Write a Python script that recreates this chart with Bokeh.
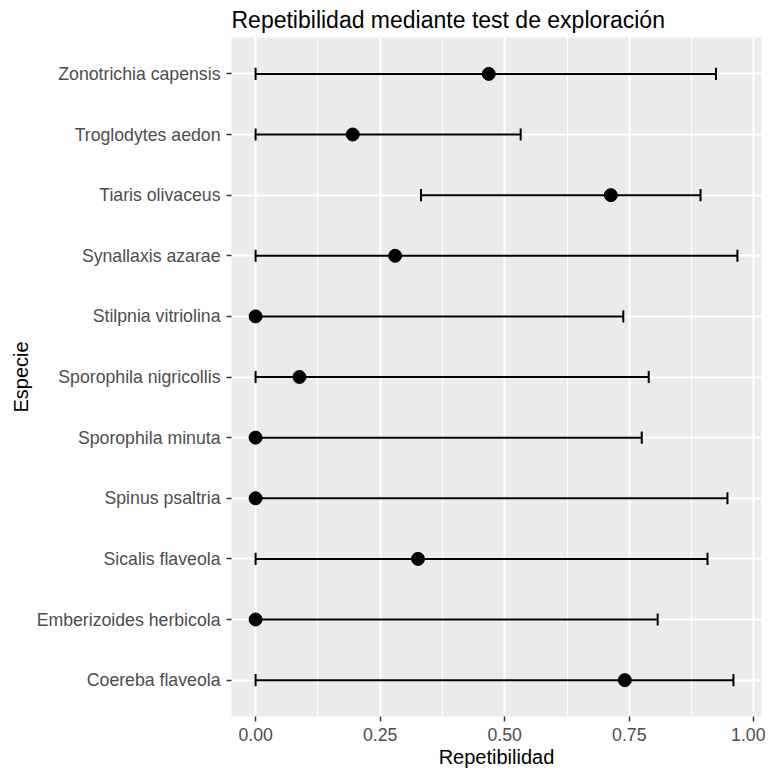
from bokeh.plotting import figure
from bokeh.models import Range1d, FixedTicker, ColumnDataSource
from bokeh.embed import file_html
from bokeh.resources import INLINE

# ---- data (ordered bottom -> top, as in the chart) ----
especies = ["Coereba flaveola", "Emberizoides herbicola", "Sicalis flaveola",
            "Spinus psaltria", "Sporophila minuta", "Sporophila nigricollis",
            "Stilpnia vitriolina", "Synallaxis azarae", "Tiaris olivaceus",
            "Troglodytes aedon", "Zonotrichia capensis"]
repetibilidad = [0.741, 0.0, 0.326, 0.0, 0.0, 0.088, 0.0, 0.280, 0.713, 0.195, 0.468]
ic_inferior = [0.0, 0.0, 0.0, 0.0, 0.0, 0.0, 0.0, 0.0, 0.332, 0.0, 0.0]
ic_superior = [0.959, 0.807, 0.907, 0.947, 0.775, 0.789, 0.738, 0.967, 0.893, 0.532, 0.924]
x_ticks = [0.0, 0.25, 0.5, 0.75, 1.0]
x_tick_labels = ["0.00", "0.25", "0.50", "0.75", "1.00"]
x_minor = [0.125, 0.375, 0.625, 0.875]
titulo = "Repetibilidad mediante test de exploración"

ypos = list(range(1, len(especies) + 1))
cap = 0.1
src = ColumnDataSource(dict(
    y=ypos, r=repetibilidad, lo=ic_inferior, hi=ic_superior,
    ylo=[v - cap for v in ypos], yhi=[v + cap for v in ypos],
))

lo_all = min(ic_inferior)
hi_all = max(ic_superior)
span = hi_all - lo_all

FONT = "Liberation Sans"

xr = Range1d(lo_all - 0.05 * span, hi_all + 0.05 * span)
yr = Range1d(0.4, len(especies) + 0.6)

p = figure(width=765, height=771, output_backend="svg", toolbar_location=None,
           x_range=xr, y_range=yr, title=titulo,
           min_border_left=231, min_border_right=4, min_border_top=37,
           min_border_bottom=55)

p.background_fill_color = "#EBEBEB"
p.border_fill_color = "white"
p.outline_line_color = None

p.title.text_font = FONT
p.title.text_font_size = "23px"
p.title.text_font_style = "normal"
p.title.text_color = "black"
p.title.align = "left"
p.title.standoff = 9

# grids
p.xgrid.ticker = FixedTicker(ticks=x_ticks, minor_ticks=x_minor)
p.xgrid.grid_line_color = "white"
p.xgrid.grid_line_width = 2
p.xgrid.minor_grid_line_color = "white"
p.xgrid.minor_grid_line_width = 1
p.ygrid.ticker = FixedTicker(ticks=ypos)
p.ygrid.grid_line_color = "white"
p.ygrid.grid_line_width = 2

# axes
p.xaxis.ticker = FixedTicker(ticks=x_ticks)
p.xaxis.major_label_overrides = dict(zip(x_ticks, x_tick_labels))
p.yaxis.ticker = FixedTicker(ticks=ypos)
p.yaxis.major_label_overrides = dict(zip(ypos, especies))
for ax in (p.xaxis, p.yaxis):
    ax.axis_line_color = None
    ax.major_tick_line_color = "#333333"
    ax.major_tick_line_width = 1.5
    ax.major_tick_out = 5
    ax.major_tick_in = 0
    ax.minor_tick_line_color = None
    ax.major_label_text_font = FONT
    ax.major_label_text_font_size = "17.7px"
    ax.major_label_text_color = "#4D4D4D"
    ax.axis_label_text_font = FONT
    ax.axis_label_text_font_size = "20px"
    ax.axis_label_text_font_style = "normal"
    ax.axis_label_text_color = "black"
p.xaxis.axis_label = "Repetibilidad"
p.yaxis.axis_label = "Especie"
p.xaxis.major_label_standoff = 6
p.yaxis.major_label_standoff = 6
p.xaxis.axis_label_standoff = 2
p.yaxis.axis_label_standoff = 2

# error bars
p.segment(x0="lo", y0="y", x1="hi", y1="y", source=src, line_color="black", line_width=2)
p.segment(x0="lo", y0="ylo", x1="lo", y1="yhi", source=src, line_color="black", line_width=2)
p.segment(x0="hi", y0="ylo", x1="hi", y1="yhi", source=src, line_color="black", line_width=2)
# points
p.scatter(x="r", y="y", source=src, size=13, color="black", marker="circle")

open("out.html", "w").write(file_html(p, INLINE))
